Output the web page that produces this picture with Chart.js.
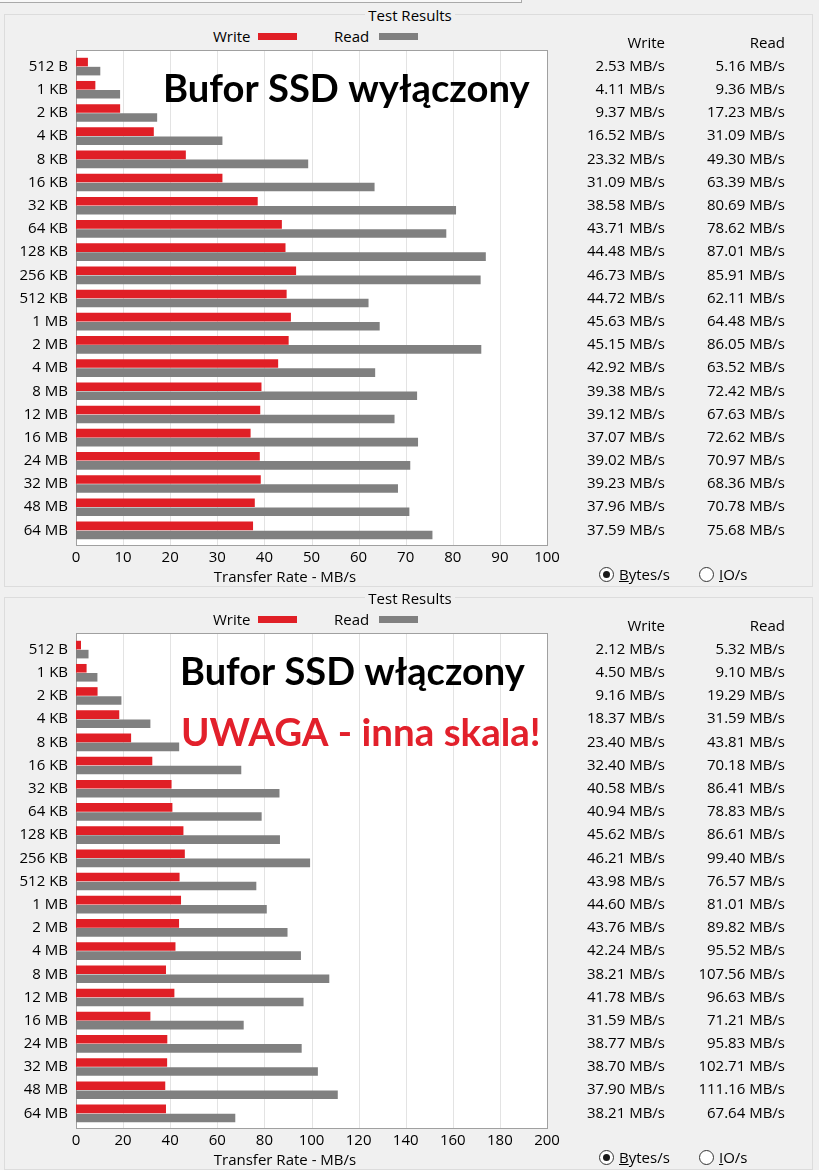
<!DOCTYPE html>
<html>
<head>
<meta charset="utf-8">
<script src="https://cdn.jsdelivr.net/npm/chart.js@4.4.1/dist/chart.umd.min.js"></script>
<style>
  body { margin: 0; width: 819px; height: 1170px; overflow: hidden; background: #f0f0f0;
         font-family: "Open Sans", "Noto Sans", sans-serif; font-size: 15px; color: #000; }
  .strip { position: absolute; left: -1px; top: -20px; width: 521px; height: 21px;
           border: 1px solid #a9a9a9; background: #f8f8f8; }
  .panel { position: absolute; left: 0; width: 819px; height: 583px; }
  .gbox { position: absolute; left: 4px; top: 14px; width: 807px; height: 571px; border: 1px solid #dcdcdc; }
  .gtitle { position: absolute; left: 0; width: 820px; top: 6px; line-height: 18px; text-align: center; }
  .gtitle span { background: #f0f0f0; padding: 0 3px; }
  .leg { position: absolute; top: 27px; line-height: 18px; }
  .sw { position: absolute; top: 33px; width: 39px; height: 7px; }
  canvas { position: absolute; left: 0; top: 0; }
  .xtitle { position: absolute; left: 185px; width: 200px; top: 567px; line-height: 18px; text-align: center; }
  .radio { position: absolute; top: 567px; width: 13px; height: 13px; border: 1px solid #333;
           border-radius: 50%; background: #fff; }
  .radio.on::after { content: ""; position: absolute; left: 3px; top: 3px; width: 7px; height: 7px;
                     border-radius: 50%; background: #1a1a1a; }
  .rl { position: absolute; top: 565px; line-height: 18px; }
</style>
</head>
<body>
<div class="strip"></div>

<div class="panel" style="top:0">
  <div class="gbox"></div>
  <div class="gtitle"><span>Test Results</span></div>
  <div class="leg" style="left:213px">Write</div>
  <div class="sw" style="left:258px;background:#e01f26"></div>
  <div class="leg" style="left:334px">Read</div>
  <div class="sw" style="left:379px;background:#808080"></div>
  <canvas id="chartOff" width="819" height="583"></canvas>
  <div class="xtitle">Transfer Rate - MB/s</div>
  <div class="radio on" style="left:599px"></div><div class="rl" style="left:619px"><u>B</u>ytes/s</div>
  <div class="radio" style="left:699px"></div><div class="rl" style="left:719px"><u>I</u>O/s</div>
</div>

<div class="panel" style="top:583px">
  <div class="gbox"></div>
  <div class="gtitle"><span>Test Results</span></div>
  <div class="leg" style="left:213px">Write</div>
  <div class="sw" style="left:258px;background:#e01f26"></div>
  <div class="leg" style="left:334px">Read</div>
  <div class="sw" style="left:379px;background:#808080"></div>
  <canvas id="chartOn" width="819" height="583"></canvas>
  <div class="xtitle">Transfer Rate - MB/s</div>
  <div class="radio on" style="left:599px"></div><div class="rl" style="left:619px"><u>B</u>ytes/s</div>
  <div class="radio" style="left:699px"></div><div class="rl" style="left:719px"><u>I</u>O/s</div>
</div>

<script>
// block sizes tested
const sizeLabels = ['512 B', '1 KB', '2 KB', '4 KB', '8 KB', '16 KB', '32 KB', '64 KB', '128 KB', '256 KB',
  '512 KB', '1 MB', '2 MB', '4 MB', '8 MB', '12 MB', '16 MB', '24 MB', '32 MB', '48 MB', '64 MB'];

// buffer off (MB/s)
const writeOff = [2.53, 4.11, 9.37, 16.52, 23.32, 31.09, 38.58, 43.71, 44.48, 46.73,
  44.72, 45.63, 45.15, 42.92, 39.38, 39.12, 37.07, 39.02, 39.23, 37.96, 37.59];
const readOff = [5.16, 9.36, 17.23, 31.09, 49.30, 63.39, 80.69, 78.62, 87.01, 85.91,
  62.11, 64.48, 86.05, 63.52, 72.42, 67.63, 72.62, 70.97, 68.36, 70.78, 75.68];

// buffer on (MB/s)
const writeOn = [2.12, 4.50, 9.16, 18.37, 23.40, 32.40, 40.58, 40.94, 45.62, 46.21,
  43.98, 44.60, 43.76, 42.24, 38.21, 41.78, 31.59, 38.77, 38.70, 37.90, 38.21];
const readOn = [5.32, 9.10, 19.29, 31.59, 43.81, 70.18, 86.41, 78.83, 86.61, 99.40,
  76.57, 81.01, 89.82, 95.52, 107.56, 96.63, 71.21, 95.83, 102.71, 111.16, 67.64];

// x axis ranges
const axisOff = { max: 100, step: 10 };
const axisOn = { max: 200, step: 20 };

const RED = '#e01f26';
const GRAY = '#808080';
const FONT = '"Open Sans", "Noto Sans", sans-serif';
const FSIZE = 15;

// white plot box, grid, results table and the big captions
function panelPlugin(overlays) {
  return {
    id: 'panel',
    beforeDraw(chart) {
      const { ctx, chartArea: a, scales: { x } } = chart;
      const top = Math.round(a.top) - 5, bottom = Math.round(a.bottom) + 3;
      const left = Math.round(a.left), right = Math.round(a.right);
      ctx.save();
      ctx.fillStyle = '#fff';
      ctx.fillRect(left, top, right - left, bottom - top);
      ctx.strokeStyle = '#e3e3e3';
      ctx.lineWidth = 1;
      x.ticks.forEach((t, i) => {
        if (i === 0 || i === x.ticks.length - 1) return;
        const px = Math.round(x.getPixelForValue(t.value)) + 0.5;
        ctx.beginPath();
        ctx.moveTo(px, top);
        ctx.lineTo(px, bottom);
        ctx.stroke();
      });
      ctx.strokeStyle = '#a0a0a0';
      ctx.strokeRect(left + 0.5, top + 0.5, right - left, bottom - top);
      ctx.restore();
    },
    afterDraw(chart) {
      const { ctx, scales: { y } } = chart;
      const step = y.getPixelForValue(1) - y.getPixelForValue(0);
      ctx.save();
      ctx.font = FSIZE + 'px ' + FONT;
      ctx.fillStyle = '#000';
      ctx.textAlign = 'right';
      ctx.textBaseline = 'middle';
      const cols = [665, 785];
      chart.data.datasets.forEach((ds, d) => {
        ctx.fillText(ds.label, cols[d], y.getPixelForValue(0) - step);
        ds.data.forEach((v, i) => ctx.fillText(v.toFixed(2) + ' MB/s', cols[d], y.getPixelForValue(i)));
      });
      ctx.textAlign = 'left';
      ctx.textBaseline = 'alphabetic';
      overlays.forEach(o => {
        ctx.font = 'bold 40px Lato, "Open Sans", sans-serif';
        const s = 40 * o.w / ctx.measureText(o.text).width;
        ctx.font = 'bold ' + s.toFixed(1) + 'px Lato, "Open Sans", sans-serif';
        ctx.fillStyle = o.color;
        ctx.fillText(o.text, o.x, o.y);
      });
      ctx.restore();
    }
  };
}

function makeChart(id, writeVals, readVals, axis, overlays) {
  const tickFont = { family: FONT, size: FSIZE };
  return new Chart(document.getElementById(id), {
    type: 'bar',
    data: {
      labels: sizeLabels,
      datasets: [
        { label: 'Write', data: writeVals, backgroundColor: RED, categoryPercentage: 0.78, barPercentage: 0.95 },
        { label: 'Read', data: readVals, backgroundColor: GRAY, categoryPercentage: 0.78, barPercentage: 0.95 }
      ]
    },
    options: {
      indexAxis: 'y',
      responsive: false,
      animation: false,
      layout: { padding: { left: 0, top: 55, right: 272, bottom: 0 } },
      plugins: { legend: { display: false }, tooltip: { enabled: false } },
      scales: {
        x: {
          min: 0, max: axis.max,
          ticks: { stepSize: axis.step, color: '#000', font: tickFont, padding: 7, maxRotation: 0, autoSkip: false },
          grid: { display: false, drawTicks: false },
          border: { display: false },
          afterFit(s) { s.height = 41; }
        },
        y: {
          ticks: { color: '#000', font: tickFont, padding: 8, autoSkip: false },
          grid: { display: false, drawTicks: false },
          border: { display: false },
          afterFit(s) { s.width = 76; }
        }
      }
    },
    plugins: [panelPlugin(overlays)]
  });
}

function drawAll() {
  makeChart('chartOff', writeOff, readOff, axisOff, [
    { text: 'Bufor SSD wyłączony', color: '#000', x: 163, y: 102, w: 367 }
  ]);
  makeChart('chartOn', writeOn, readOn, axisOn, [
    { text: 'Bufor SSD włączony', color: '#000', x: 180, y: 102, w: 345 },
    { text: 'UWAGA - inna skala!', color: '#e2202b', x: 181, y: 163, w: 360 }
  ]);
}

Promise.all([
  document.fonts.load('bold 40px Lato'),
  document.fonts.load(FSIZE + 'px "Open Sans"')
]).then(drawAll, drawAll);
</script>
</body>
</html>
